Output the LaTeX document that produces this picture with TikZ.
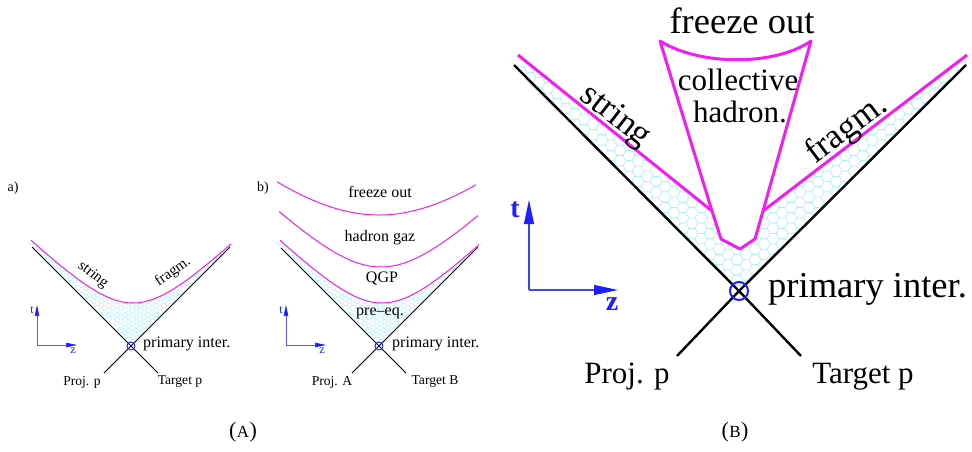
\documentclass[tikz,border=0pt]{standalone}
\usepackage{fontspec}
\setmainfont{Liberation Serif}
\usetikzlibrary{arrows.meta}
\definecolor{mag}{RGB}{240,30,240}
\definecolor{hexc}{RGB}{165,240,248}
\definecolor{axb}{RGB}{30,30,255}
\newcommand\honey[6]{% s, x0, y0, periods, levels, style
  \pgfmathsetmacro\hh{0.8660254*#1}%
  \foreach \k in {0,...,#5}{%
    \pgfmathsetmacro\dh{\hh*(1-2*mod(\k,2))}%
    \pgfmathsetmacro\mdh{-\dh}%
    \pgfmathsetmacro\ys{#3+\k*\hh+mod(\k,2)*\hh}%
    \draw[#6] (#2,\ys) \foreach \n in {1,...,#4}{ -- ++(#1,0) -- ++(0.5*#1,\dh) -- ++(#1,0) -- ++(0.5*#1,\mdh) };
  }}
\begin{document}
\begin{tikzpicture}[x=1pt,y=-1pt,
  every node/.style={inner sep=0pt},
  wl/.style={black, line width=1pt},
  wlB/.style={black, line width=2.4pt},
  mg/.style={mag, line width=1pt},
  mgB/.style={mag, line width=3pt, line join=round},
  hexs/.style={hexc, line width=0.35pt},
  hexsB/.style={hexc, line width=0.6pt},
  axsm/.style={axb!75, line width=0.7pt, -{Triangle[length=11pt,width=4.5pt,fill=axb,color=axb]}},
  axbig/.style={axb!85, line width=1.1pt, -{Triangle[length=24pt,width=10pt,fill=axb,color=axb]}},
  sm/.style={font=\fontsize{16}{18}\selectfont},
  smr/.style={font=\fontsize{15}{17}\selectfont},
  smp/.style={font=\fontsize{13.6}{15}\selectfont},
  smlab/.style={font=\fontsize{12}{14}\selectfont, text=axb},
  bigf/.style={font=\fontsize{36.5}{38}\selectfont},
  bigs/.style={font=\fontsize{35}{36}\selectfont},
  bigp/.style={font=\fontsize{31}{32}\selectfont},
  biglab/.style={font=\bfseries\fontsize{28}{30}\selectfont, text=axb},
  captxt/.style={font=\fontsize{22}{24}\selectfont},
  vtx/.style={circle, draw=axb, minimum size=8pt, line width=0.9pt},
  vtxB/.style={circle, draw=axb, minimum size=18pt, line width=2pt}
]
\useasboundingbox (0,0) rectangle (972,451);

% ================= Panel a =================
\coordinate (aX) at (131,346);
\coordinate (aL) at (32,247);
\coordinate (aR) at (230,247);
\coordinate (aBL) at (104,373);
\coordinate (aBR) at (158,373);
\begin{scope}
  \clip (27,242) -- (aX) -- (235,242) -- cycle;
  \clip plot[domain=-106:103,samples=60] ({133+\x},{346-(-8.5+51.5*sqrt((\x/51.5)^2+1))}) -- (240,360) -- (20,360) -- cycle;
  \honey{2.6}{26}{238}{27}{50}{hexs}
\end{scope}
\draw[wl] (aL) -- (aX) -- (aBR);
\draw[wl] (aR) -- (aX) -- (aBL);
\draw[mg] plot[domain=-102:98,samples=80] ({133+\x},{346-(-8.5+51.5*sqrt((\x/51.5)^2+1))});
\node[vtx] (av) at (aX) {};
\node[smr, font=\fontsize{14}{16}\selectfont] (alab) at (13,188) {a)};
\node[smr, rotate=-38] (astr) at (93,275) {string};
\node[smr, rotate=35] (afr) at (173,272) {fragm.};
\node[sm, anchor=west] (api) at (143,344) {primary inter.};
\node[smp] (aproj) at (82,382) {Proj. p};
\node[smp] (atar) at (180,382) {Target p};
\coordinate (aO) at (37,345);
\coordinate (aT) at (37,305);
\coordinate (aZ) at (77,345);
\draw[axsm] (aO) -- (aT);
\draw[axsm] (aO) -- (aZ);
\node[smlab] (at) at (32,310) {t};
\node[smlab] (az) at (73,351) {z};

% ================= Panel b =================
\coordinate (bX) at (379,346);
\coordinate (bL) at (281,248);
\coordinate (bR) at (478,247);
\coordinate (bBL) at (352,373);
\coordinate (bBR) at (406,373);
\begin{scope}
  \clip (275,242) -- (bX) -- (484,241) -- cycle;
  \clip plot[domain=-106:103,samples=60] ({382+\x},{346-(-8.5+51.5*sqrt((\x/51.5)^2+1))}) -- (490,360) -- (270,360) -- cycle;
  \honey{2.6}{274}{238}{27}{50}{hexs}
\end{scope}
\draw[wl] (bL) -- (bX) -- (bBR);
\draw[wl] (bR) -- (bX) -- (bBL);
\draw[mg] plot[domain=-102:97,samples=80] ({382+\x},{346-(-8.5+51.5*sqrt((\x/51.5)^2+1))});
\draw[mg] plot[domain=-102:97,samples=80] ({381+\x},{346-(13.4+65.6*sqrt((\x/65.6)^2+1))});
\draw[mg] plot[domain=-102:97,samples=80] ({379+\x},{346-(-9+140*sqrt((\x/140)^2+1))});
\node[vtx] (bv) at (bX) {};
\node[smr, font=\fontsize{14}{16}\selectfont] (blab) at (263,188) {b)};
\node[sm] (bfo) at (380,192) {freeze out};
\node[sm] (bhg) at (380,238) {hadron gaz};
\node[sm] (bqgp) at (382,278) {QGP};
\node[sm] (bpre) at (380,313) {pre--eq.};
\node[sm, anchor=west] (bpi) at (392,344) {primary inter.};
\node[smp] (bproj) at (332,382) {Proj. A};
\node[smp] (btar) at (435,382) {Target B};
\coordinate (bO) at (286,345);
\coordinate (bT) at (286,305);
\coordinate (bZ) at (326,345);
\draw[axsm] (bO) -- (bT);
\draw[axsm] (bO) -- (bZ);
\node[smlab] (bt) at (281,310) {t};
\node[smlab] (bz) at (322,351) {z};

% ================= Panel B =================
\coordinate (BX) at (739,291);
\coordinate (BL) at (514,65);
\coordinate (BR) at (966,65);
\coordinate (BBL) at (677,356);
\coordinate (BBR) at (801,356);
\coordinate (Bs1) at (518,55);
\coordinate (Bs2) at (712,211);
\coordinate (Bf1) at (967,55);
\coordinate (Bf2) at (763,211);
\coordinate (Bc1) at (721,239);
\coordinate (Bc2) at (740,249);
\coordinate (Bc3) at (755,239);
\coordinate (Btl) at (660,41);
\coordinate (Btr) at (811,41);
\begin{scope}
  \clip (464,15) -- (BX) -- (1016,15) -- cycle;
  \clip (Bs1) -- (Bs2) -- (Bc1) -- (Bc2) -- (Bc3) -- (Bf2) -- (Bf1) -- (990,420) -- (490,420) -- cycle;
  \honey{6}{500}{36}{27}{50}{hexsB}
\end{scope}
\draw[wlB] (BL) -- (BX) -- (BBR);
\draw[wlB] (BR) -- (BX) -- (BBL);
\draw[mgB] (Bs1) -- (Bs2);
\draw[mgB] (Bf1) -- (Bf2);
\draw[mgB] (Bs2) -- (Btl) .. controls (700,66) and (775,66) .. (Btr) -- (Bf2) -- (Bc3) -- (Bc2) -- (Bc1) -- cycle;
\node[vtxB] (Bv) at (BX) {};
\node[bigf] (Bfo) at (742,21) {freeze out};
\node[bigp] (Bcol) at (738,80) {collective};
\node[bigp] (Bhad) at (740,112) {hadron.};
\node[bigs, rotate=-38] (Bstr) at (615,117) {string};
\node[bigs, rotate=37] (Bfr) at (847,130) {fragm.};
\node[bigf, anchor=west] (Bpi) at (768,289) {primary inter.};
\node[bigp] (Bproj) at (627,377) {Proj. p};
\node[bigp] (Btar) at (863,377) {Target p};
\coordinate (BO) at (529,290);
\coordinate (BT) at (529,200);
\coordinate (BZ) at (618,290);
\draw[axbig] (BO) -- (BT);
\draw[axbig] (BO) -- (BZ);
\node[biglab] (Bt) at (515,210) {t};
\node[biglab] (Bz) at (612,304) {z};

% ================= Captions =================
\node[captxt] (capA) at (243,432) {(\kern0.5pt{\fontsize{17}{17}\selectfont A}\kern0.5pt)};
\node[captxt] (capB) at (735,432) {(\kern0.5pt{\fontsize{17}{17}\selectfont B}\kern0.5pt)};
\end{tikzpicture}
\end{document}
